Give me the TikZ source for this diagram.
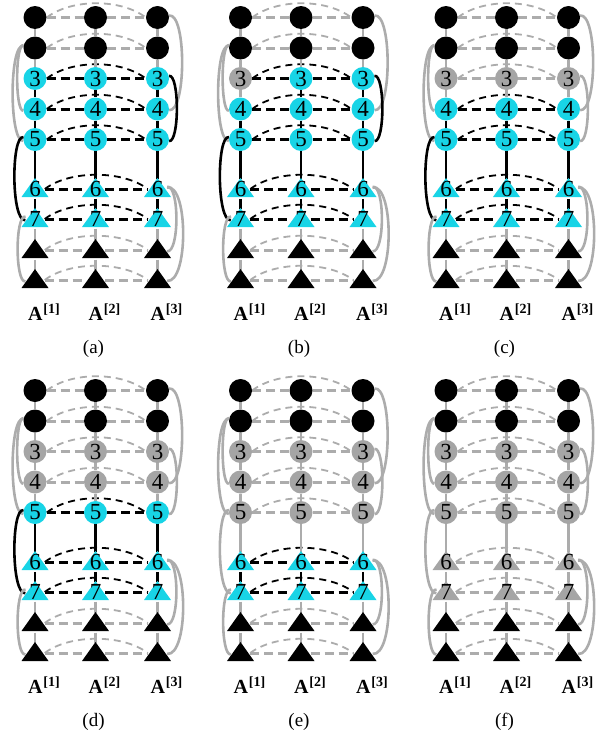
\documentclass[tikz,border=0pt]{standalone}
\usepackage{fontspec}
\setmainfont{Liberation Serif}
\pgfdeclarelayer{bg}
\pgfsetlayers{bg,main}
\definecolor{ncyan}{RGB}{24,212,230}
\definecolor{ngray}{RGB}{165,165,165}
\definecolor{lgray}{RGB}{172,172,172}
\newcommand\stateof[3]{\csname S#1-#2-#3\endcsname}
\begin{document}
\begin{tikzpicture}[x=1pt,y=-1pt,
  cnode/.style={circle, minimum size=23pt, inner sep=0pt, font=\fontsize{23}{23}\selectfont},
  tnode/.style={circle, minimum size=19pt, inner sep=0pt, font=\fontsize{23}{23}\selectfont},
  vline/.style={line width=2.7pt},
  hdash/.style={line width=3pt, dash pattern=on 9pt off 5pt},
  adash/.style={line width=1.8pt, dash pattern=on 7pt off 5pt},
  sarc/.style={line width=2.6pt},
  albl/.style={anchor=base west, inner sep=0pt, font=\fontsize{20}{20}\selectfont},
  caplbl/.style={anchor=base, inner sep=0pt, font=\fontsize{19}{19}\selectfont}]
\useasboundingbox (0,0) rectangle (605,739);
\foreach \p/\px/\py/\g/\lab in {1/35/0/0/a,2/240.5/0/0/b,3/446/0/1/c,4/35/373/2/d,5/240.5/373/3/e,6/446/373/5/f}{
  % nodes
  \foreach \r/\ry in {1/17.5,2/48,3/78.5,4/109,5/139.5,6/189,7/219,8/250,9/280}{
    \foreach \c/\cx in {1/0,2/60.5,3/122.5}{
      \pgfmathtruncatemacro\st{(\r<3 || \r>7) ? 0 : ((\r<3+\g || (\p==2 && \r==3 && \c==1)) ? 2 : 1)}
      \expandafter\xdef\csname S\p-\r-\c\endcsname{\st}
      \ifcase\st \def\fc{black}\or \def\fc{ncyan}\or \def\fc{ngray}\fi
      \ifnum\st=0 \def\txt{}\else \edef\txt{\r}\fi
      \pgfmathsetmacro\X{\px+\cx}
      \pgfmathsetmacro\Y{\py+\ry}
      \ifnum\r<6
        \node[cnode,fill=\fc] (n\p r\r c\c) at (\X,\Y) {\txt};
      \else
        \fill[\fc] (\X,\Y) ++(0,-11) -- ++(13.5,19) -- ++(-27,0) -- cycle;
        \node[tnode] (n\p r\r c\c) at (\X,\Y) {\txt};
      \fi
    }
  }
  % edges
  \begin{pgfonlayer}{bg}
  \foreach \r in {1,...,9}{
    \foreach \ca/\cb in {1/2,2/3}{
      \ifnum\stateof{\p}{\r}{\cb}=1 \def\ec{black}\else\def\ec{lgray}\fi
      \draw[hdash,\ec] (n\p r\r c\ca) -- (n\p r\r c\cb);
    }
    \ifnum\stateof{\p}{\r}{3}=1 \def\ec{black}\else\def\ec{lgray}\fi
    \draw[adash,\ec] (n\p r\r c1.east) .. controls +(25,-19) and +(-25,-19) .. (n\p r\r c3.west);
  }
  \foreach \r in {1,...,8}{
    \pgfmathtruncatemacro\rn{\r+1}
    \foreach \c in {1,2,3}{
      \def\ec{lgray}
      \ifnum\stateof{\p}{\r}{\c}=1 \ifnum\stateof{\p}{\rn}{\c}=1 \def\ec{black}\fi\fi
      \draw[vline,\ec] (n\p r\r c\c) -- (n\p r\rn c\c);
    }
  }
  \foreach \ra/\rb/\cc/\dx in {2/4/1/-20,2/5/1/-26,1/4/3/29,3/5/3/22,5/7/1/-24,7/9/1/-20,6/8/3/22,6/9/3/31}{
    \def\ec{lgray}
    \ifnum\stateof{\p}{\ra}{\cc}=1 \ifnum\stateof{\p}{\rb}{\cc}=1 \def\ec{black}\fi\fi
    \draw[sarc,\ec] (n\p r\ra c\cc) .. controls +(\dx,-5) and +(\dx,3) .. (n\p r\rb c\cc);
  }
  \end{pgfonlayer}
  % labels
  \foreach \c/\cx in {1/0,2/60.5,3/122.5}{
    \node[albl] (A\p c\c) at (\px+\cx-7.2,\py+320) {\textbf{A}\hspace{1pt}\raisebox{7pt}{\fontsize{14}{14}\selectfont\textbf{[\c]}}};
  }
  \node[caplbl] (cap\p) at (\px+58.5,\py+353) {(\lab)};
}
\end{tikzpicture}
\end{document}
